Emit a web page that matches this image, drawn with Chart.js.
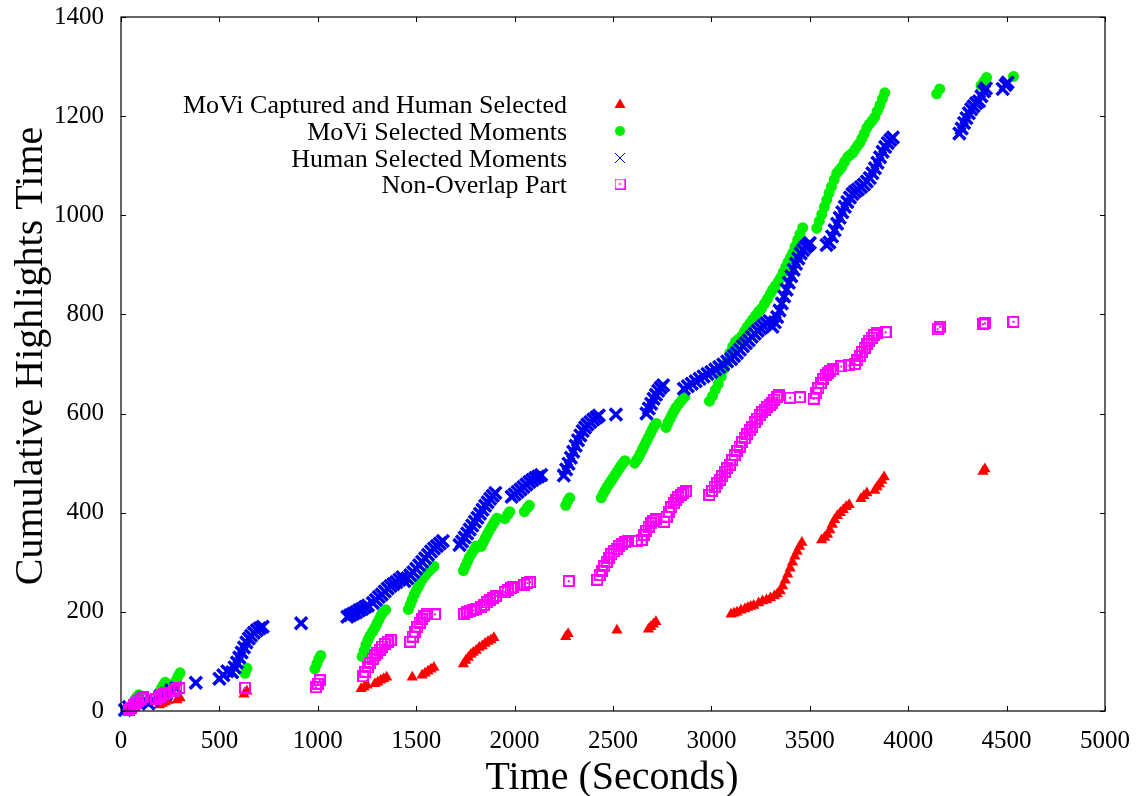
<!DOCTYPE html>
<html>
<head>
<meta charset="utf-8">
<script src="https://cdn.jsdelivr.net/npm/chart.js@4/dist/chart.umd.min.js"></script>
<style>
  html, body { margin: 0; padding: 0; background: #fff; }
  #wrap { width: 1138px; height: 796px; }
</style>
</head>
<body>
<div id="wrap"><canvas id="chart"></canvas></div>
<script>
// x ticks / y ticks
const xTicks = [0, 500, 1000, 1500, 2000, 2500, 3000, 3500, 4000, 4500, 5000];
const yTicks = [0, 200, 400, 600, 800, 1000, 1200, 1400];

const seriesLabels = [
  "MoVi Captured and Human Selected",
  "MoVi Selected Moments",
  "Human Selected Moments",
  "Non-Overlap Part",
];

// [time, cumulative highlights time]
const capturedPts = [
  [50,5],
  [195,12],[210,15],[225,18],[240,21],
  [285,22],[300,26],
  [625,34],[640,40],
  [1220,45],[1235,48],[1250,52],
  [1290,55],[1305,58],[1320,62],[1335,65],[1350,68],
  [1480,68],
  [1530,72],[1545,76],[1560,80],[1575,84],[1590,88],
  [1740,95],[1752,102],[1765,108],[1778,114],[1790,118],[1805,122],[1820,128],[1835,131],[1850,136],[1865,140],[1880,143],[1895,148],
  [2260,150],[2272,156],
  [2520,163],
  [2680,165],[2692,170],[2705,175],[2718,180],
  [3100,195],[3115,197],[3130,199],[3150,203],[3170,206],[3185,209],[3200,211],[3215,213],[3240,218],[3260,222],[3280,224],[3300,228],[3320,232],[3335,236],
  [3350,242],[3362,252],[3375,264],[3388,276],[3400,288],[3412,300],[3424,312],[3436,322],[3448,332],[3460,340],
  [3560,345],[3575,350],[3590,356],[3602,365],[3614,376],[3626,386],[3640,394],[3655,400],[3670,406],[3685,412],[3700,416],
  [3760,428],[3775,434],[3790,440],
  [3830,445],[3842,452],[3854,458],[3866,465],[3878,472],
  [4380,483],[4390,488],
];

const moviPts = [
  [60,15],[70,22],[80,28],[90,33],
  [195,38],[205,45],[215,52],[225,58],
  [270,55],[280,62],[290,70],[300,77],
  [630,76],[640,86],
  [985,85],[995,95],[1005,105],[1015,112],
  [1225,110],[1235,122],[1245,134],[1255,144],[1265,152],[1278,160],[1290,168],[1300,176],[1310,184],[1320,192],[1330,198],[1345,204],
  [1460,205],[1470,215],[1480,225],[1490,235],[1500,243],[1510,250],[1520,258],[1530,265],[1545,273],[1560,280],[1575,286],[1590,292],
  [1740,283],[1750,292],[1760,301],[1770,310],[1782,318],[1795,326],[1805,333],
  [1830,332],[1840,340],[1850,348],[1860,356],[1870,363],[1880,370],[1890,376],[1900,383],[1910,389],
  [1950,388],[1965,396],[1975,402],
  [2050,402],[2065,410],[2075,415],
  [2260,415],[2270,424],[2280,430],
  [2440,430],[2450,438],[2460,445],[2470,452],[2480,458],[2490,464],[2500,470],[2510,476],[2520,482],[2530,488],[2540,494],[2550,500],[2560,505],
  [2610,500],[2620,506],[2630,512],[2640,520],[2650,528],[2660,536],[2670,544],[2680,552],[2690,560],[2700,568],[2710,575],[2720,580],
  [2770,572],[2780,582],[2790,590],[2800,598],[2810,605],[2820,612],[2835,620],[2850,627],[2865,634],
  [2990,625],[3005,635],[3020,648],[3035,660],[3050,675],[3065,690],[3080,705],[3093,722],[3108,735],[3122,745],[3138,750],[3154,756],[3168,766],[3182,775],
  [3196,782],[3210,790],[3225,798],[3240,806],[3255,812],[3270,822],[3285,832],[3300,842],[3311,850],[3325,858],[3340,866],[3352,874],[3365,885],[3378,896],
  [3390,906],[3402,915],[3413,924],[3425,937],[3438,950],[3450,962],[3464,975],
  [3535,974],[3548,988],[3561,1002],[3574,1017],[3586,1031],[3598,1045],[3610,1058],[3624,1072],[3637,1085],[3650,1091],[3662,1097],[3677,1108],[3693,1118],
  [3705,1122],[3718,1126],[3730,1133],[3742,1140],[3754,1146],[3765,1155],[3777,1165],[3789,1176],[3803,1184],[3817,1191],[3830,1198],[3843,1210],[3856,1222],
  [3869,1235],[3881,1247],
  [4145,1245],[4160,1255],
  [4370,1262],[4385,1270],[4398,1278],
  [4535,1280],
];

const humanPts = [
  [20,2],[40,8],
  [140,15],[160,22],
  [200,30],[230,35],[255,42],[280,46],
  [380,57],
  [500,65],[520,72],[540,80],
  [565,78],[577,88],[589,98],[601,108],[613,118],[625,128],[637,138],[649,146],[661,152],[675,158],[690,163],[705,167],[720,170],
  [915,177],
  [1150,190],[1165,193],[1180,196],[1195,199],[1210,203],[1225,206],[1240,210],[1255,213],
  [1280,218],[1295,224],[1310,230],[1325,235],[1340,241],[1355,247],[1370,252],[1385,256],[1400,260],[1415,265],[1430,270],
  [1440,262],[1455,268],[1470,274],[1485,280],[1500,287],[1515,294],[1530,301],[1545,308],[1560,315],[1575,322],[1590,328],[1605,333],[1620,338],[1635,343],
  [1720,335],[1733,342],[1746,350],[1759,358],[1772,366],[1785,374],[1798,382],[1811,390],[1824,398],[1837,406],[1850,414],[1863,421],[1876,428],[1889,434],[1902,440],
  [1985,432],[2000,437],[2015,442],[2030,447],[2045,452],[2060,457],[2075,462],[2090,466],[2105,470],[2120,473],[2135,476],
  [2250,475],[2262,487],[2274,499],[2286,511],[2298,523],[2310,535],[2322,546],[2334,556],[2346,565],[2358,572],[2370,578],[2385,583],[2400,588],[2415,592],[2428,596],
  [2515,598],
  [2670,600],[2682,610],[2694,620],[2706,630],[2718,638],[2730,646],[2742,652],[2755,657],
  [2860,650],[2880,655],[2900,660],[2920,665],[2940,670],[2960,675],[2980,680],[3000,684],[3020,689],[3040,694],[3060,699],[3080,705],
  [3100,710],[3115,716],[3130,722],[3145,729],[3160,736],[3175,742],[3190,748],[3205,755],[3220,761],[3235,767],[3250,772],[3265,777],[3280,782],[3295,787],
  [3310,775],[3322,784],[3334,795],[3346,808],[3358,822],[3370,836],[3382,850],[3394,864],[3406,877],[3418,890],[3430,902],[3442,913],[3454,923],[3466,930],
  [3478,936],[3490,940],[3500,944],
  [3585,940],
  [3600,945],[3613,957],[3626,970],[3639,983],[3652,995],[3665,1006],[3678,1017],[3691,1027],[3704,1036],[3717,1043],[3730,1048],[3745,1052],[3760,1057],
  [3775,1062],[3790,1068],
  [3805,1075],[3818,1085],[3831,1095],[3844,1106],[3857,1117],[3870,1128],[3883,1138],[3896,1146],[3909,1152],[3922,1157],
  [4260,1165],[4272,1175],[4284,1186],[4296,1196],[4308,1206],[4320,1214],[4332,1220],[4345,1226],
  [4360,1230],[4372,1240],[4385,1250],[4395,1256],
  [4480,1255],[4495,1263],[4505,1268],
];

const nonOverlapPts = [
  [40,2],[52,7],[64,12],[76,17],[88,21],[100,25],[112,28],
  [180,24],[192,28],[204,31],[216,34],[230,36],
  [268,40],[282,44],[296,46],
  [630,47],
  [990,48],[1000,55],[1010,62],
  [1230,70],[1242,79],[1254,88],[1266,97],[1278,105],[1290,112],[1302,118],[1314,124],[1326,130],[1340,135],[1355,140],[1370,143],
  [1470,140],[1482,150],[1494,160],[1506,170],[1518,178],[1530,185],[1542,191],[1555,196],
  [1595,195],
  [1745,196],[1760,199],[1775,201],[1790,203],[1805,206],
  [1830,210],[1845,214],[1860,219],[1875,224],[1890,228],[1905,232],
  [1950,240],[1965,244],[1980,248],[1990,250],
  [2050,255],[2065,258],[2078,260],
  [2275,262],
  [2420,265],[2432,274],[2444,283],[2456,292],[2468,301],[2480,309],[2492,316],[2505,322],[2518,327],[2530,332],[2545,336],[2560,340],[2575,343],
  [2620,343],
  [2645,345],[2657,355],[2669,364],[2681,372],[2693,379],[2705,384],[2717,387],
  [2760,382],[2772,392],[2784,402],[2796,411],[2808,419],[2820,426],[2832,432],[2845,436],[2858,440],[2870,443],
  [2990,436],[3003,444],[3016,452],[3029,459],[3042,466],[3055,474],[3068,483],[3081,490],[3093,497],[3106,506],[3118,516],[3130,525],[3143,533],[3156,542],
  [3169,550],[3182,558],[3194,566],[3207,573],[3220,582],[3232,590],[3245,597],[3258,603],[3271,608],[3284,613],[3296,617],[3308,622],[3320,628],[3332,633],[3342,637],
  [3400,632],[3450,633],
  [3520,630],[3532,641],[3544,652],[3556,662],[3568,670],[3580,677],[3592,682],[3605,686],[3618,690],
  [3660,695],[3700,697],
  [3730,700],[3742,708],[3754,716],[3766,724],[3778,732],[3790,740],[3802,747],[3814,753],[3826,758],[3840,762],
  [3885,764],
  [4150,770],[4162,775],
  [4380,780],[4390,782],
  [4535,785],
];

const RED = "#ff0000", GREEN = "#00f000", BLUE = "#0000f0", MAGENTA = "#ff00ff";
const serif = "'Liberation Serif', 'Times New Roman', serif";

function toXY(pts) {
  return pts.map((p) => ({ x: p[0], y: p[1] }));
}

// open square with a dot in the middle
function boxDot(size, lw) {
  const c = document.createElement("canvas");
  c.width = size;
  c.height = size;
  const g = c.getContext("2d");
  g.strokeStyle = MAGENTA;
  g.lineWidth = lw;
  g.strokeRect(lw / 2, lw / 2, size - lw, size - lw);
  g.fillStyle = MAGENTA;
  g.fillRect(size / 2 - 1, size / 2 - 1, 2, 2);
  return c;
}

const boxMark = boxDot(12, 2);

// inward ticks, frame, axis titles and the key
const decorations = {
  id: "decorations",
  afterDraw(chart) {
    const ctx = chart.ctx;
    const a = chart.chartArea;
    const xs = chart.scales.x, ys = chart.scales.y;
    ctx.save();
    ctx.strokeStyle = "#000";
    ctx.lineWidth = 1.2;
    ctx.strokeRect(a.left, a.top, a.right - a.left, a.bottom - a.top);
    ctx.lineWidth = 1;
    ctx.beginPath();
    xTicks.forEach((v) => {
      const px = Math.round(xs.getPixelForValue(v)) + 0.5;
      ctx.moveTo(px, a.bottom); ctx.lineTo(px, a.bottom - 5);
      ctx.moveTo(px, a.top); ctx.lineTo(px, a.top + 5);
    });
    yTicks.forEach((v) => {
      const py = Math.round(ys.getPixelForValue(v)) + 0.5;
      ctx.moveTo(a.left, py); ctx.lineTo(a.left + 5, py);
      ctx.moveTo(a.right, py); ctx.lineTo(a.right - 5, py);
    });
    ctx.stroke();

    // axis titles
    ctx.fillStyle = "#000";
    ctx.font = "40px " + serif;
    ctx.textAlign = "center";
    ctx.textBaseline = "alphabetic";
    ctx.fillText("Time (Seconds)", 612, 789);
    ctx.save();
    ctx.translate(42, 356);
    ctx.rotate(-Math.PI / 2);
    ctx.fillText("Cumulative Highlights Time", 0, 0);
    ctx.restore();

    // key
    ctx.font = "26px " + serif;
    ctx.textAlign = "right";
    const baselines = [113, 140, 167, 193];
    const mx = 620;
    seriesLabels.forEach((lab, i) => {
      ctx.fillStyle = "#000";
      ctx.fillText(lab, 567, baselines[i]);
      const my = baselines[i] - 9;
      if (i === 0) {
        ctx.fillStyle = RED;
        ctx.beginPath();
        ctx.moveTo(mx, my - 5.5);
        ctx.lineTo(mx + 5.5, my + 4);
        ctx.lineTo(mx - 5.5, my + 4);
        ctx.closePath();
        ctx.fill();
      } else if (i === 1) {
        ctx.fillStyle = GREEN;
        ctx.beginPath();
        ctx.arc(mx, my, 5, 0, Math.PI * 2);
        ctx.fill();
      } else if (i === 2) {
        ctx.strokeStyle = BLUE;
        ctx.lineWidth = 1;
        ctx.beginPath();
        ctx.moveTo(mx - 5, my - 5); ctx.lineTo(mx + 5, my + 5);
        ctx.moveTo(mx - 5, my + 5); ctx.lineTo(mx + 5, my - 5);
        ctx.stroke();
      } else {
        ctx.drawImage(boxDot(11, 1.2), mx - 5.5, my - 5.5);
      }
    });
    ctx.restore();
  },
};

new Chart(document.getElementById("chart"), {
  type: "scatter",
  data: {
    datasets: [
      {
        label: seriesLabels[0],
        data: toXY(capturedPts),
        pointStyle: "triangle",
        pointRadius: 6.5,
        backgroundColor: RED,
        borderColor: RED,
        borderWidth: 0,
        clip: false,
        order: 4,
      },
      {
        label: seriesLabels[1],
        data: toXY(moviPts),
        pointStyle: "circle",
        pointRadius: 5.5,
        backgroundColor: GREEN,
        borderColor: GREEN,
        borderWidth: 0,
        clip: false,
        order: 3,
      },
      {
        label: seriesLabels[2],
        data: toXY(humanPts),
        pointStyle: "crossRot",
        pointRadius: 8.5,
        backgroundColor: BLUE,
        borderColor: BLUE,
        borderWidth: 3.5,
        clip: false,
        order: 2,
      },
      {
        label: seriesLabels[3],
        data: toXY(nonOverlapPts),
        pointStyle: boxMark,
        pointRadius: 6,
        backgroundColor: MAGENTA,
        borderColor: MAGENTA,
        clip: false,
        order: 1,
      },
    ],
  },
  options: {
    responsive: true,
    maintainAspectRatio: false,
    animation: false,
    events: [],
    layout: { padding: { top: 17, right: 33, left: 0, bottom: 0 } },
    plugins: { legend: { display: false }, tooltip: { enabled: false } },
    scales: {
      x: {
        type: "linear",
        min: 0,
        max: 5000,
        afterBuildTicks: (s) => { s.ticks = xTicks.map((v) => ({ value: v })); },
        afterFit: (s) => {
          s.height = 85;
          s.paddingLeft = 0; s.paddingRight = 0; s.paddingTop = 0; s.paddingBottom = 0;
        },
        grid: { display: false },
        border: { display: false },
        ticks: {
          color: "#000",
          font: { family: serif, size: 25 },
          padding: 7,
          maxRotation: 0,
          callback: (v) => String(v),
        },
      },
      y: {
        type: "linear",
        min: 0,
        max: 1400,
        afterBuildTicks: (s) => { s.ticks = yTicks.map((v) => ({ value: v })); },
        afterFit: (s) => {
          s.width = 121;
          s.paddingLeft = 0; s.paddingRight = 0; s.paddingTop = 0; s.paddingBottom = 0;
        },
        grid: { display: false },
        border: { display: false },
        ticks: {
          color: "#000",
          font: { family: serif, size: 25 },
          padding: 9,
          callback: (v) => String(v),
        },
      },
    },
  },
  plugins: [decorations],
});
</script>
</body>
</html>
